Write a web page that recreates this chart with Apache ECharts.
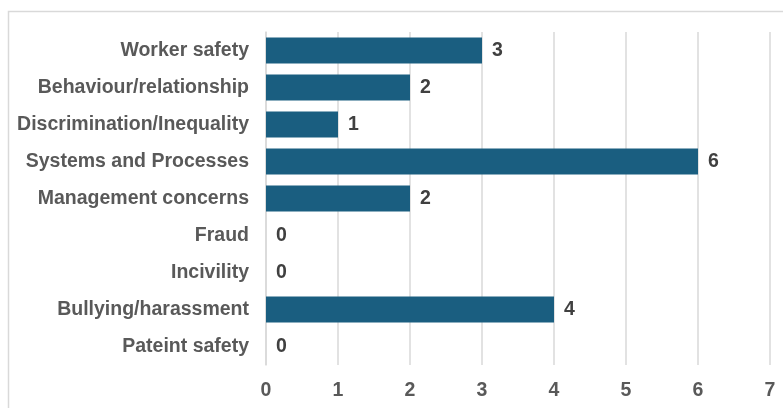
<!DOCTYPE html>
<html>
<head>
<meta charset="utf-8">
<script src="https://cdn.jsdelivr.net/npm/echarts@6/dist/echarts.min.js"></script>
<style>
  html, body { margin: 0; padding: 0; background: #fff; }
  #container { width: 783px; height: 408px; }
</style>
</head>
<body>
<div id="container"></div>
<script>
var categories = ['Worker safety', 'Behaviour/relationship', 'Discrimination/Inequality',
    'Systems and Processes', 'Management concerns', 'Fraud', 'Incivility',
    'Bullying/harassment', 'Pateint safety'];
var values = [3, 2, 1, 6, 2, 0, 0, 4, 0];
var xTicks = [0, 1, 2, 3, 4, 5, 6, 7];

var myChart = echarts.init(document.getElementById('container'));
var option = {
    backgroundColor: '#fff',
    animation: false,
    graphic: [{
        type: 'rect',
        shape: { x: 8.5, y: 11.5, width: 800, height: 420 },
        style: { fill: 'none', stroke: '#d9d9d9', lineWidth: 1.5 },
        silent: true
    }],
    grid: { left: 266, right: 13, top: 32, bottom: 43 },
    xAxis: {
        type: 'value',
        min: xTicks[0],
        max: xTicks[xTicks.length - 1],
        interval: 1,
        axisLine: { show: false },
        axisTick: { show: false },
        splitLine: { lineStyle: { color: '#d9d9d9', width: 1.5 } },
        axisLabel: {
            color: '#595959', fontFamily: 'Liberation Sans', fontWeight: 'bold',
            fontSize: 19.5, margin: 16
        }
    },
    yAxis: {
        type: 'category',
        data: categories,
        inverse: true,
        axisLine: { lineStyle: { color: '#d9d9d9', width: 1.5 } },
        axisTick: { show: false },
        axisLabel: {
            color: '#595959', fontFamily: 'Liberation Sans', fontWeight: 'bold',
            fontSize: 19.5, margin: 17
        }
    },
    series: [{
        type: 'bar',
        data: values,
        barWidth: 26,
        itemStyle: { color: '#1a5e80' },
        label: {
            show: true, position: 'right', distance: 10,
            color: '#404040', fontFamily: 'Liberation Sans', fontWeight: 'bold',
            fontSize: 19.5
        }
    }]
};
myChart.setOption(option, true);
</script>
</body>
</html>
